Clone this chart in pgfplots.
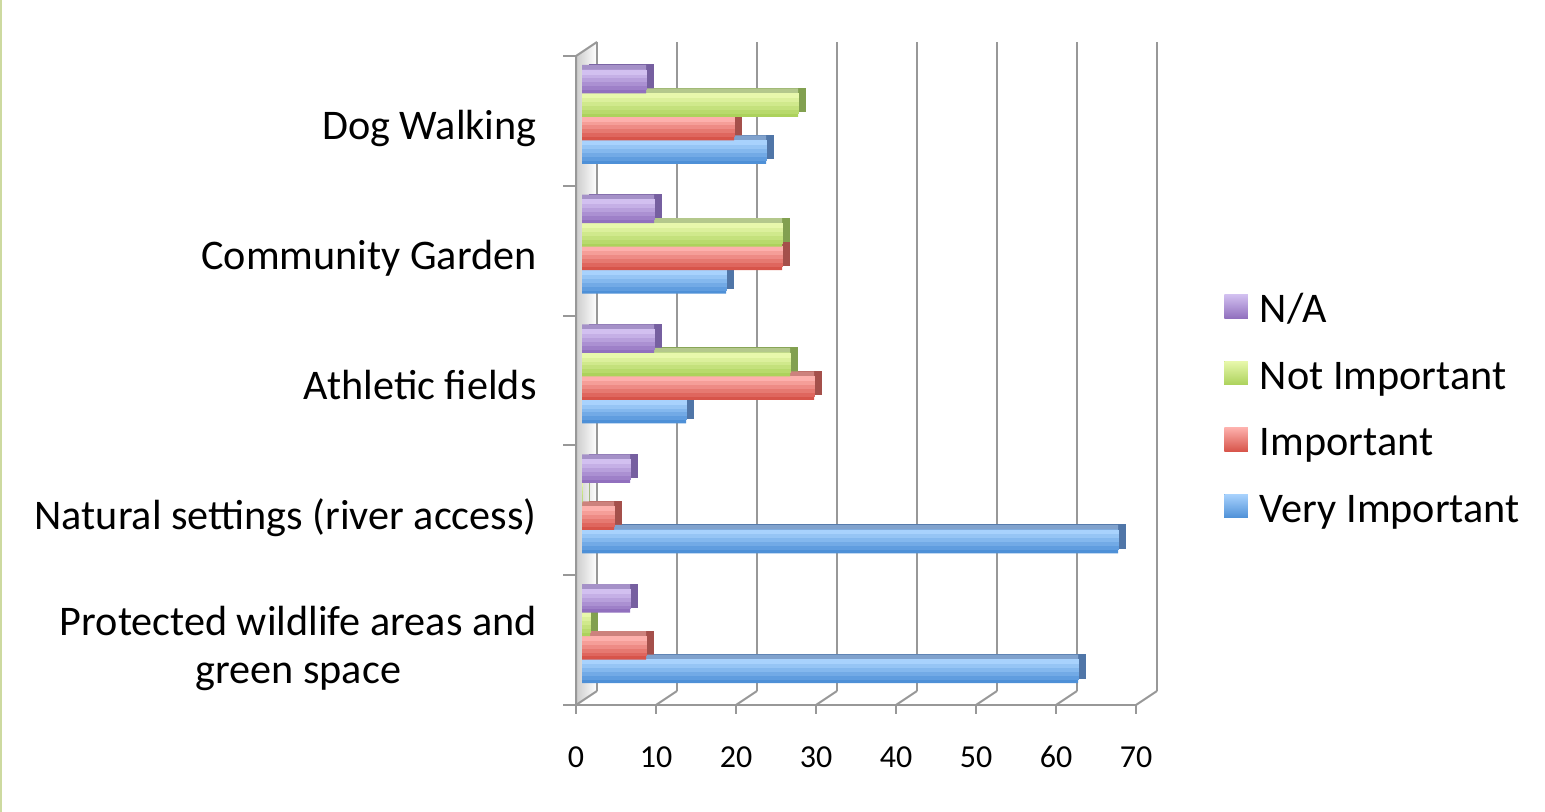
\documentclass[border=0pt]{standalone}
\usepackage{pgfplots}
\usepackage{pgfplotstable}
\pgfplotsset{compat=1.18}
\usepackage{fontspec}
\setmainfont{Carlito}
\definecolor{naT}{RGB}{210,192,240}
\definecolor{naB}{RGB}{145,112,190}
\definecolor{naS}{RGB}{118,95,160}
\definecolor{naM}{RGB}{165,145,200}
\definecolor{niT}{RGB}{232,248,172}
\definecolor{niB}{RGB}{172,210,92}
\definecolor{niS}{RGB}{130,160,80}
\definecolor{niM}{RGB}{180,200,140}
\definecolor{imT}{RGB}{253,176,172}
\definecolor{imB}{RGB}{215,84,74}
\definecolor{imS}{RGB}{165,80,75}
\definecolor{imM}{RGB}{205,130,125}
\definecolor{viT}{RGB}{168,210,253}
\definecolor{viB}{RGB}{78,144,215}
\definecolor{viS}{RGB}{80,118,168}
\definecolor{viM}{RGB}{128,162,205}
\definecolor{gridc}{RGB}{152,152,152}
\definecolor{edgec}{RGB}{205,218,160}

\pgfplotstableread{
y na ni im vi
0 6 1 8 62
1 6 0 4 67
2 9 26 29 13
3 9 25 25 18
4 8 27 19 23
}\datatable

% one horizontal band of a bar's front face: column, width, shift, colour
\newcommand{\band}[4]{\addplot[xbar, bar width=#2pt, bar shift=#3pt, draw=#4, line width=0.25pt, fill=#4, forget plot] table[x=#1, y=y] {\datatable};}

\begin{document}
\begin{tikzpicture}
\useasboundingbox (0,0) rectangle (772.5pt,406pt);
\draw[edgec, line width=1pt] (0.5pt,0) -- (0.5pt,406pt);
\begin{axis}[
  at={(291pt,55.5pt)}, anchor=south west,
  scale only axis, width=280pt, height=324.5pt,
  xmin=0, xmax=70, ymin=-0.5, ymax=4.5,
  xbar, bar width=11.75pt,
  axis line style={draw=none},
  major tick length=0pt,
  xtick={0,10,...,70},
  ytick={0,1,2,3,4},
  yticklabels={{\strut Protected wildlife areas and\\\strut green space},{\strut Natural settings (river access)},{\strut Athletic fields},{\strut Community Garden},{\strut Dog Walking}},
  xticklabel style={font=\fontsize{16}{19}\selectfont, anchor=center, inner sep=0pt, xshift=-3pt, yshift=-28pt},
  yticklabel style={font=\fontsize{21.1}{24}\selectfont, anchor=east, inner sep=0pt, align=center, xshift=-22.5pt, yshift=-6.7pt},
  /pgf/number format/assume math mode=true,
  clip=false,
  reverse legend,
  legend style={at={(1.1464,0.6271)}, anchor=north west, draw=none, fill=none, inner sep=0pt, row sep=14.8pt,
    font=\fontsize{21.1}{24}\selectfont,
    nodes={inner sep=0pt, text height=14pt, text depth=4.5pt, anchor=west},
    /tikz/every odd column/.append style={column sep=6pt}},
]
% left wall
\fill[left color=gray!40, right color=white] ([xshift=-3pt,yshift=-2pt]axis cs:0,-0.5) -- ([xshift=7.5pt,yshift=5pt]axis cs:0,-0.5) -- ([xshift=7.5pt,yshift=5pt]axis cs:0,4.5) -- ([xshift=-3pt,yshift=-2pt]axis cs:0,4.5) -- cycle;
% back wall grid lines, floor diagonals, front ticks
\pgfplotsinvokeforeach{0,10,20,30,40,50,60,70}{
  \draw[gridc, line width=1.4pt] ([xshift=7.5pt,yshift=5pt]axis cs:#1,-0.5) -- ([xshift=7.5pt,yshift=5pt]axis cs:#1,4.5);
  \draw[gridc, line width=1pt] ([xshift=-3pt,yshift=-2pt]axis cs:#1,-0.5) -- ([xshift=7.5pt,yshift=5pt]axis cs:#1,-0.5);
  \draw[gridc, line width=1pt] ([xshift=-3pt,yshift=-2pt]axis cs:#1,-0.5) -- ([xshift=-3pt,yshift=-6.5pt]axis cs:#1,-0.5);
}
% left ticks
\pgfplotsinvokeforeach{-0.5,0.5,1.5,2.5,3.5,4.5}{
  \draw[gridc, line width=1pt] ([xshift=-3pt,yshift=-2pt]axis cs:0,#1) -- ([xshift=-9.5pt,yshift=-2pt]axis cs:0,#1);
}
\draw[gridc, line width=1pt] ([xshift=-9.5pt,yshift=-2pt]axis cs:0,-0.5) -- ([xshift=-3pt,yshift=-2pt]axis cs:70,-0.5);
\draw[gridc, line width=1pt] ([xshift=-3pt,yshift=-2pt]axis cs:0,-0.5) -- ([xshift=-3pt,yshift=-2pt]axis cs:0,4.5) -- ([xshift=7.5pt,yshift=5pt]axis cs:0,4.5);
\draw[gridc, line width=1pt] ([xshift=7.5pt,yshift=5pt]axis cs:0,-0.5) -- ([xshift=7.5pt,yshift=5pt]axis cs:0,4.5);

% right faces (dark)
\addplot[xbar, bar width=11.75pt, bar shift=-17.625pt, fill=viS, draw=viS, line width=0.5pt, xshift=3.5pt, yshift=2.5pt, forget plot] table[x=vi, y=y] {\datatable};
\addplot[xbar, bar width=11.75pt, bar shift=-5.875pt, fill=imS, draw=imS, line width=0.5pt, xshift=3.5pt, yshift=2.5pt, forget plot] table[x=im, y=y] {\datatable};
\addplot[xbar, bar width=11.75pt, bar shift=5.875pt, fill=niS, draw=niS, line width=0.5pt, xshift=3.5pt, yshift=2.5pt, forget plot] table[x=ni, y=y] {\datatable};
\addplot[xbar, bar width=11.75pt, bar shift=17.625pt, fill=naS, draw=naS, line width=0.5pt, xshift=3.5pt, yshift=2.5pt, forget plot] table[x=na, y=y] {\datatable};
% top faces (medium)
\addplot[xbar, bar width=11.75pt, bar shift=-17.625pt, fill=viM, draw=none, yshift=2.5pt, forget plot] table[x=vi, y=y] {\datatable};
\addplot[xbar, bar width=11.75pt, bar shift=-5.875pt, fill=imM, draw=none, yshift=2.5pt, forget plot] table[x=im, y=y] {\datatable};
\addplot[xbar, bar width=11.75pt, bar shift=5.875pt, fill=niM, draw=none, yshift=2.5pt, forget plot] table[x=ni, y=y] {\datatable};
\addplot[xbar, bar width=11.75pt, bar shift=17.625pt, fill=naM, draw=none, yshift=2.5pt, forget plot] table[x=na, y=y] {\datatable};

% front faces: Very Important
\addplot[xbar, bar width=11.75pt, bar shift=-17.625pt, draw=none, fill=viB,
  legend image code/.code={\shade[top color=viT, bottom color=viB] (0pt,-2.6pt) rectangle (11.8pt,9.2pt);}] table[x=vi, y=y] {\datatable};
\addlegendentry{Very Important}
\band{vi}{9.7917}{-16.6458}{viT!20!viB}
\band{vi}{7.8333}{-15.6667}{viT!40!viB}
\band{vi}{5.875}{-14.6875}{viT!60!viB}
\band{vi}{3.9167}{-13.7083}{viT!80!viB}
\band{vi}{1.9583}{-12.7292}{viT}
% Important
\addplot[xbar, bar width=11.75pt, bar shift=-5.875pt, draw=none, fill=imB,
  legend image code/.code={\shade[top color=imT, bottom color=imB] (0pt,-2.6pt) rectangle (11.8pt,9.2pt);}] table[x=im, y=y] {\datatable};
\addlegendentry{Important}
\band{im}{9.7917}{-4.8958}{imT!20!imB}
\band{im}{7.8333}{-3.9167}{imT!40!imB}
\band{im}{5.875}{-2.9375}{imT!60!imB}
\band{im}{3.9167}{-1.9583}{imT!80!imB}
\band{im}{1.9583}{-0.9792}{imT}
% Not Important
\addplot[xbar, bar width=11.75pt, bar shift=5.875pt, draw=none, fill=niB,
  legend image code/.code={\shade[top color=niT, bottom color=niB] (0pt,-2.6pt) rectangle (11.8pt,9.2pt);}] table[x=ni, y=y] {\datatable};
\addlegendentry{Not Important}
\band{ni}{9.7917}{6.8542}{niT!20!niB}
\band{ni}{7.8333}{7.8333}{niT!40!niB}
\band{ni}{5.875}{8.8125}{niT!60!niB}
\band{ni}{3.9167}{9.7917}{niT!80!niB}
\band{ni}{1.9583}{10.7708}{niT}
% N/A
\addplot[xbar, bar width=11.75pt, bar shift=17.625pt, draw=none, fill=naB,
  legend image code/.code={\shade[top color=naT, bottom color=naB] (0pt,-2.6pt) rectangle (11.8pt,9.2pt);}] table[x=na, y=y] {\datatable};
\addlegendentry{N/A}
\band{na}{9.7917}{18.6042}{naT!20!naB}
\band{na}{7.8333}{19.5833}{naT!40!naB}
\band{na}{5.875}{20.5625}{naT!60!naB}
\band{na}{3.9167}{21.5417}{naT!80!naB}
\band{na}{1.9583}{22.5208}{naT}
\end{axis}
\end{tikzpicture}
\end{document}
